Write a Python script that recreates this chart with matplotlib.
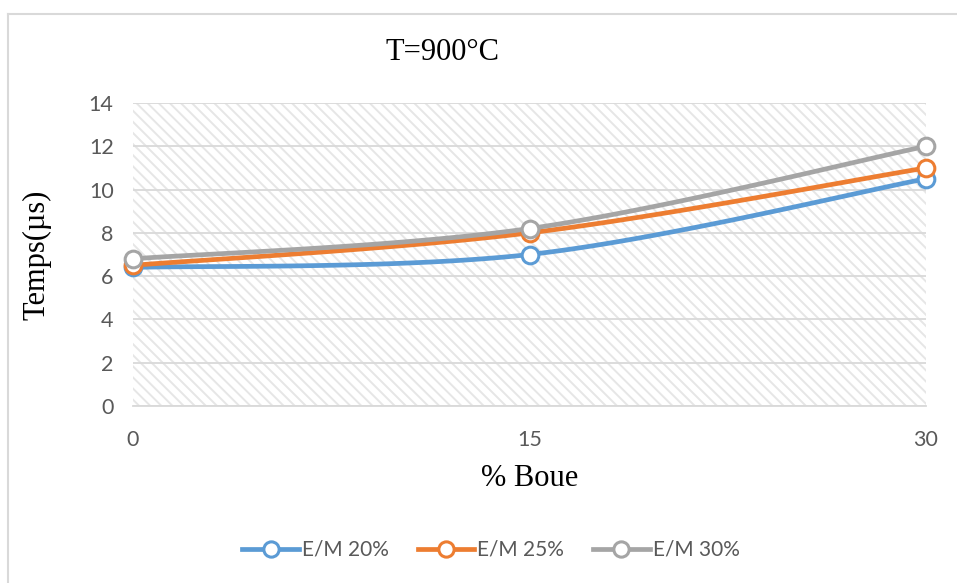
import numpy as np
import matplotlib
matplotlib.use("Agg")
import matplotlib.pyplot as plt
from matplotlib.patches import Rectangle
from matplotlib.lines import Line2D

# Data
boue = [0, 15, 30]
em20 = [6.4, 7.0, 10.5]
em25 = [6.5, 8.0, 11.0]
em30 = [6.8, 8.2, 12.0]
series_labels = ["E/M 20%", "E/M 25%", "E/M 30%"]
colors = ["#5B9BD5", "#ED7D31", "#A5A5A5"]
yticks = [0, 2, 4, 6, 8, 10, 12, 14]
xticks = [0, 15, 30]

plt.rcParams['hatch.linewidth'] = 1.4

def smooth(x, y, n=60):
    x = np.asarray(x, float); y = np.asarray(y, float)
    px = np.concatenate([[x[0]], x, [x[-1]]])
    py = np.concatenate([[y[0]], y, [y[-1]]])
    xs, ys = [], []
    for i in range(1, len(px) - 2):
        t = np.linspace(0, 1, n)
        p0x, p1x, p2x, p3x = px[i-1], px[i], px[i+1], px[i+2]
        p0y, p1y, p2y, p3y = py[i-1], py[i], py[i+1], py[i+2]
        c1x = p1x + (p2x - p0x) / 6; c1y = p1y + (p2y - p0y) / 6
        c2x = p2x - (p3x - p1x) / 6; c2y = p2y - (p3y - p1y) / 6
        bx = (1-t)**3*p1x + 3*(1-t)**2*t*c1x + 3*(1-t)*t**2*c2x + t**3*p2x
        by = (1-t)**3*p1y + 3*(1-t)**2*t*c1y + 3*(1-t)*t**2*c2y + t**3*p2y
        xs.append(bx); ys.append(by)
    return np.concatenate(xs), np.concatenate(ys)

fig = plt.figure(figsize=(9.57, 5.83), dpi=100)
ax = fig.add_axes([133/957, 1-406/583, (926-133)/957, (406-103)/583])

# hatched background
ax.add_patch(Rectangle((0, 0), 1, 1, transform=ax.transAxes, facecolor="white",
                       edgecolor="#E6E6E6", linewidth=0, hatch="\\\\\\", zorder=0))

ax.set_xlim(0, 30)
ax.set_ylim(0, 14)
ax.set_yticks(yticks)
ax.set_xticks(xticks)
ax.yaxis.grid(True, color="#D9D9D9", linewidth=1.3, zorder=1)
ax.set_axisbelow(True)
for s in ["top", "right", "left"]:
    ax.spines[s].set_visible(False)
ax.spines["bottom"].set_color("#D9D9D9")
ax.spines["bottom"].set_linewidth(1.3)
ax.tick_params(length=0, labelsize=15.5, labelcolor="#595959")
ax.tick_params(axis="y", pad=14)
ax.tick_params(axis="x", pad=17)
for lab in ax.get_xticklabels() + ax.get_yticklabels():
    lab.set_family("Lato")

for ys, c, lab in zip([em20, em25, em30], colors, series_labels):
    sx, sy = smooth(boue, ys)
    ax.plot(sx, sy, color=c, linewidth=3.4, solid_capstyle="round", zorder=3, clip_on=False)
    ax.plot(boue, ys, linestyle="none", marker="o", markersize=12, markerfacecolor="white",
            markeredgecolor=c, markeredgewidth=2.2, zorder=4, clip_on=False)

fig.text(442/957, 1-52/583, "T=900°C", family="Liberation Serif", fontsize=22,
         ha="center", va="center", color="black")
fig.text(37/957, 1-255/583, "Temps(µs)", family="Liberation Serif", fontsize=22,
         ha="center", va="center", rotation=90, color="black")
fig.text(530/957, 1-478/583, "% Boue", family="Liberation Serif", fontsize=22,
         ha="center", va="center", color="black")

handles = [Line2D([], [], color=c, linewidth=3.4, marker="o", markersize=11,
                  markerfacecolor="white", markeredgecolor=c, markeredgewidth=2.2)
           for c in colors]
leg = fig.legend(handles, series_labels, loc="center", bbox_to_anchor=(491/957, 1-550/583),
                 ncol=3, frameon=False, handlelength=2.7, columnspacing=1.4,
                 handletextpad=0.15, prop={"family": "Lato", "size": 15})
for t in leg.get_texts():
    t.set_color("#595959")

# outer chart border (top and left visible)
fig.add_artist(Line2D([8/957, 8/957], [0, 1-13.5/583], transform=fig.transFigure,
                      color="#D9D9D9", linewidth=1.5))
fig.add_artist(Line2D([8/957, 1], [1-13.5/583, 1-13.5/583], transform=fig.transFigure,
                      color="#D9D9D9", linewidth=1.5))

fig.savefig("out.png", dpi=100)
